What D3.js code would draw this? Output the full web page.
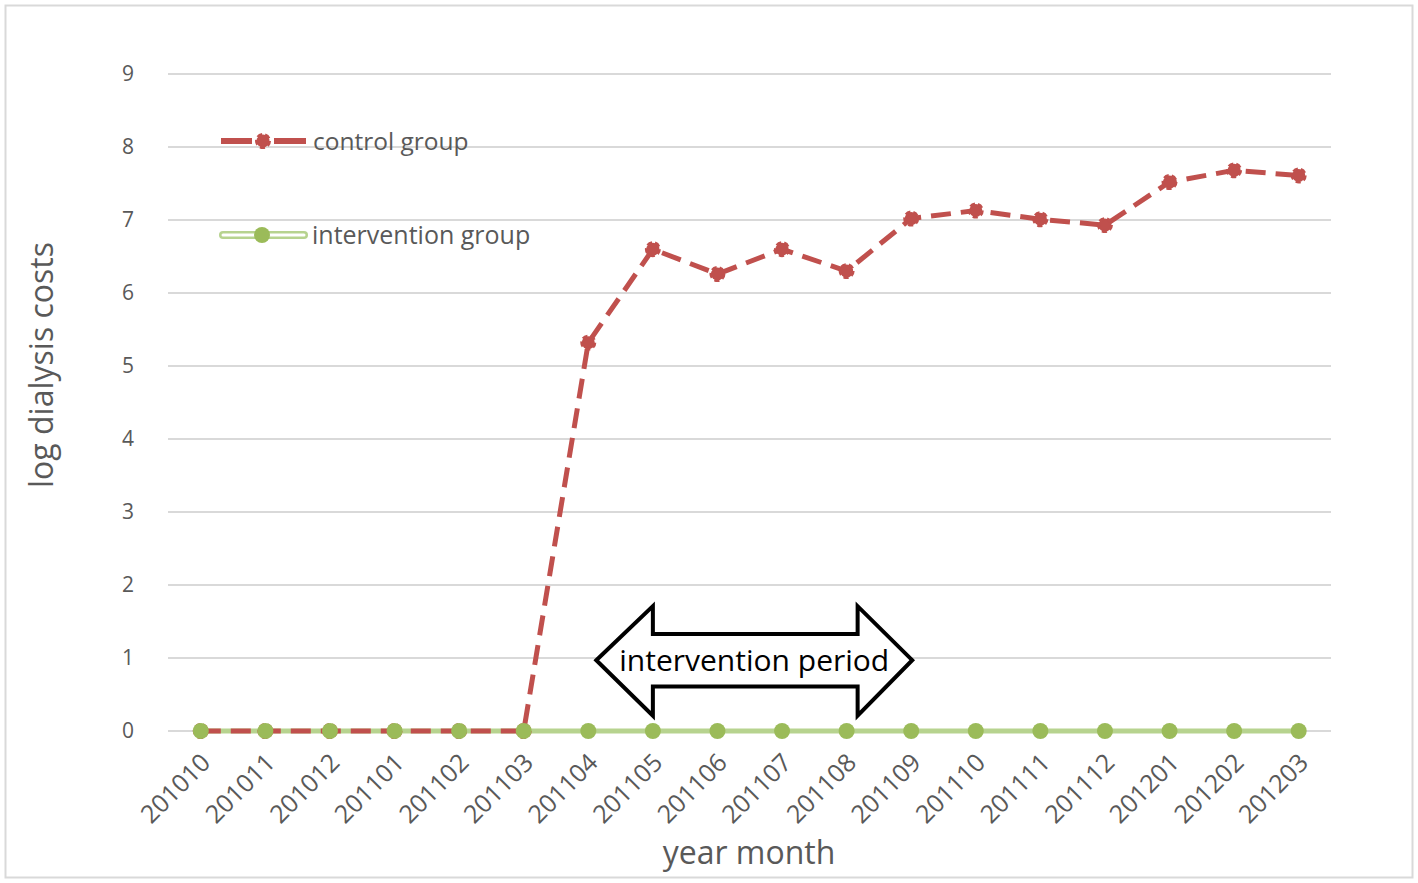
<!DOCTYPE html>
<html>
<head>
<meta charset="utf-8">
<title>log dialysis costs</title>
<style>
  body { margin: 0; background: #fff; }
  text { font-family: "Open Sans", Lato, sans-serif; }
</style>
</head>
<body>
<div id="chart"></div>
<script src="https://d3js.org/d3.v7.min.js"></script>
<script>
// data
var months = ["201010","201011","201012","201101","201102","201103","201104","201105","201106",
              "201107","201108","201109","201110","201111","201112","201201","201202","201203"];
var control = [0, 0, 0, 0, 0, 0, 5.32, 6.60, 6.26, 6.60, 6.30, 7.02, 7.13, 7.01, 6.93, 7.52, 7.68, 7.61];
var intervention = [0, 0, 0, 0, 0, 0, 0, 0, 0, 0, 0, 0, 0, 0, 0, 0, 0, 0];
var yTicks = [0, 1, 2, 3, 4, 5, 6, 7, 8, 9];

var W = 1418, H = 883;
var svg = d3.select("#chart").append("svg").attr("width", W).attr("height", H);

// chart frame
svg.append("rect").attr("x", 5.5).attr("y", 5.5).attr("width", 1407).attr("height", 872)
  .attr("fill", "#fff").attr("stroke", "#d9d9d9").attr("stroke-width", 2);

var x = d3.scalePoint().domain(months).range([168.5, 1331]).padding(0.5);
var y = d3.scaleLinear().domain([0, 9]).range([731, 74]);

// gridlines
svg.selectAll("line.grid").data(yTicks).enter().append("line")
  .attr("class", "grid")
  .attr("x1", 168).attr("x2", 1331)
  .attr("y1", function(d){ return y(d); }).attr("y2", function(d){ return y(d); })
  .attr("stroke", "#d9d9d9").attr("stroke-width", 2);

// y tick labels
svg.selectAll("text.ytick").data(yTicks).enter().append("text")
  .attr("class", "ytick")
  .attr("x", 128).attr("y", function(d){ return y(d); })
  .attr("dy", "0.35em").attr("text-anchor", "middle")
  .attr("font-size", 21).attr("fill", "#595959")
  .text(function(d){ return d; });

// x tick labels
svg.selectAll("text.xtick").data(months).enter().append("text")
  .attr("class", "xtick")
  .attr("transform", function(d){ return "translate(" + (x(d) + 5) + ",758) rotate(-45)"; })
  .attr("text-anchor", "end").attr("dy", "0.35em")
  .attr("font-size", 25).attr("fill", "#595959")
  .text(function(d){ return d; });

// axis titles
svg.append("text").attr("transform", "translate(53,365) rotate(-90)")
  .attr("text-anchor", "middle").attr("font-size", 32).attr("fill", "#595959")
  .text("log dialysis costs");
svg.append("text").attr("x", 749).attr("y", 864)
  .attr("text-anchor", "middle").attr("font-size", 32).attr("fill", "#595959")
  .text("year month");

var red = "#c0504d", green = "#9bbb59", lightGreen = "#b7d38f";

var line = d3.line().x(function(d, i){ return x(months[i]); }).y(function(d){ return y(d); });

// intervention series
svg.append("path").datum(intervention).attr("d", line)
  .attr("fill", "none").attr("stroke", lightGreen).attr("stroke-width", 5);

// control series
svg.append("path").datum(control).attr("d", line)
  .attr("fill", "none").attr("stroke", red).attr("stroke-width", 5)
  .attr("stroke-dasharray", "20,10");

svg.selectAll("circle.ctl").data(control).enter().append("circle")
  .attr("class", "ctl")
  .attr("cx", function(d, i){ return x(months[i]); }).attr("cy", function(d){ return y(d); })
  .attr("r", 6.5).attr("fill", red)
  .attr("stroke", red).attr("stroke-width", 3).attr("stroke-dasharray", "5,3");

svg.selectAll("circle.int").data(intervention).enter().append("circle")
  .attr("class", "int")
  .attr("cx", function(d, i){ return x(months[i]); }).attr("cy", function(d){ return y(d); })
  .attr("r", 8).attr("fill", green);

// legend
var lg = svg.append("g");
lg.append("line").attr("x1", 221).attr("x2", 252).attr("y1", 141).attr("y2", 141)
  .attr("stroke", red).attr("stroke-width", 6);
lg.append("line").attr("x1", 274).attr("x2", 306).attr("y1", 141).attr("y2", 141)
  .attr("stroke", red).attr("stroke-width", 6);
lg.append("circle").attr("cx", 263).attr("cy", 141).attr("r", 6.5).attr("fill", red)
  .attr("stroke", red).attr("stroke-width", 3).attr("stroke-dasharray", "5,3");
lg.append("text").attr("x", 313).attr("y", 141).attr("dy", "0.35em")
  .attr("font-size", 24.5).attr("fill", "#595959").text("control group");

lg.append("line").attr("x1", 223).attr("x2", 304).attr("y1", 235).attr("y2", 235)
  .attr("stroke", lightGreen).attr("stroke-width", 8).attr("stroke-linecap", "round");
lg.append("line").attr("x1", 223).attr("x2", 304).attr("y1", 235).attr("y2", 235)
  .attr("stroke", "#fff").attr("stroke-width", 3).attr("stroke-linecap", "round");
lg.append("circle").attr("cx", 262).attr("cy", 235).attr("r", 8).attr("fill", green);
lg.append("text").attr("x", 312).attr("y", 235).attr("dy", "0.35em")
  .attr("font-size", 25).attr("fill", "#595959").text("intervention group");

// intervention period arrow
var xl = x("201104") + 8, xlb = x("201105"), xrb = x("201108") + 11, xr = x("201109") + 1;
var yc = y(0.97), ys1 = y(1.33), ys2 = y(0.61), yh1 = y(1.71), yh2 = y(0.21);
var arrow = [[xl, yc], [xlb, yh1], [xlb, ys1], [xrb, ys1], [xrb, yh1], [xr, yc],
             [xrb, yh2], [xrb, ys2], [xlb, ys2], [xlb, yh2]];
svg.append("path").attr("d", d3.line()(arrow) + "Z")
  .attr("fill", "#fff").attr("stroke", "#000").attr("stroke-width", 4)
  .attr("stroke-linejoin", "miter");
svg.append("text").attr("x", (xl + xr) / 2).attr("y", yc).attr("dy", "0.35em")
  .attr("text-anchor", "middle").attr("font-size", 30).attr("fill", "#000")
  .text("intervention period");
</script>
</body>
</html>
